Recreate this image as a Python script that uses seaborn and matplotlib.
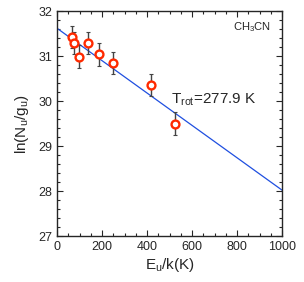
import numpy as np
import pandas as pd
import matplotlib.pyplot as plt
import seaborn as sns
from matplotlib.ticker import MultipleLocator

# Rotation diagram values
energy = [67, 77, 98, 135, 184, 249, 419, 525]
ln_ng = [31.43, 31.30, 30.99, 31.30, 31.04, 30.85, 30.36, 29.50]
ln_err = [0.25, 0.25, 0.25, 0.25, 0.25, 0.25, 0.25, 0.25]

# Fitted line end points
fit_x = [0, 1000]
fit_y = [31.62, 28.02]

df = pd.DataFrame({"E": energy, "lnN": ln_ng, "err": ln_err})
fit = pd.DataFrame({"E": fit_x, "lnN": fit_y})

sns.set_style("ticks")
plt.rcParams["font.family"] = ["Liberation Sans", "DejaVu Sans"]

fig = plt.figure(figsize=(3.04, 2.82), dpi=100)
ax = fig.add_axes([0.188, 0.163, 0.74, 0.797])

sns.lineplot(x="E", y="lnN", data=fit, color="#1f4fe0", linewidth=0.9, ax=ax)
ax.errorbar(df["E"], df["lnN"], yerr=df["err"], fmt="none", ecolor="#444444",
            elinewidth=1.0, capsize=1.5, capthick=0.8, zorder=3)
sns.scatterplot(x="E", y="lnN", data=df, marker="o", s=32, facecolor="white",
                edgecolor="#ff2a00", linewidth=1.7, zorder=4, ax=ax)

ax.set_xlim(0, 1000)
ax.set_ylim(27, 32)
ax.xaxis.set_major_locator(MultipleLocator(200))
ax.xaxis.set_minor_locator(MultipleLocator(50))
ax.yaxis.set_major_locator(MultipleLocator(1))
ax.yaxis.set_minor_locator(MultipleLocator(0.2))
ax.tick_params(which="both", direction="in", top=True, right=True, labelsize=9, width=0.8)
ax.tick_params(which="major", length=4)
ax.tick_params(which="minor", length=2)
for s in ax.spines.values():
    s.set_linewidth(1.0)

ax.set_xlabel(r"E$_\mathregular{u}$/k(K)", fontsize=11, labelpad=2)
ax.set_ylabel(r"ln(N$_\mathregular{u}$/g$_\mathregular{u}$)", fontsize=11, labelpad=5)
ax.text(0.95, 0.93, r"CH$_\mathregular{3}$CN", transform=ax.transAxes, ha="right",
        va="center", fontsize=8)
ax.text(505, 29.96, r"T$_\mathregular{rot}$=277.9 K", fontsize=11, va="baseline")

plt.savefig("out.png", dpi=100)
